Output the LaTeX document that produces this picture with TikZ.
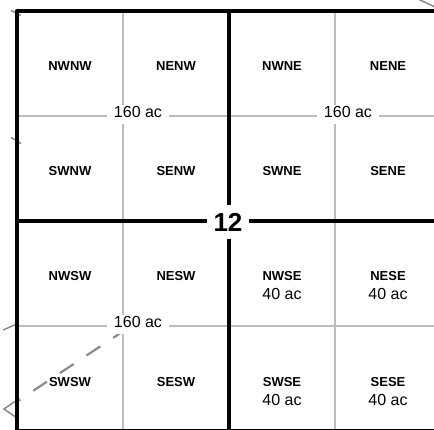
\documentclass[tikz,border=0pt]{standalone}
\usepackage{fontspec}
\setmainfont{Liberation Sans}
\usetikzlibrary{positioning}
\definecolor{quartergray}{HTML}{BBBBBB}
\definecolor{tiegray}{HTML}{8A8A8A}
\tikzset{
  quarterline/.style={draw=quartergray, line width=1.8pt},
  sectionline/.style={draw=black, line width=4.5pt},
  cell/.style={font=\fontsize{13}{15}\selectfont\bfseries, inner sep=2pt},
  acres/.style={font=\fontsize{16}{19}\selectfont, fill=white, anchor=base,
    text depth=4pt, inner xsep=7pt, inner ysep=2pt},
  small acres/.style={font=\fontsize{16}{19}\selectfont, inner sep=1pt},
  secnum/.style={font=\fontsize{26}{30}\selectfont\bfseries, fill=white, inner xsep=7pt, inner ysep=8pt},
  tieline/.style={draw=tiegray, line width=2.2pt, dash pattern=on 16.5pt off 15.5pt},
  outline/.style={draw=tiegray, line width=1.5pt}
}

\begin{document}
\begin{tikzpicture}[x=1pt, y=-1pt]
  \useasboundingbox (0,0) rectangle (434,430);
  \clip (0,0) rectangle (434,430);

  % Quarter-quarter lines
  \draw[quarterline] (123,11) -- (123,431);
  \draw[quarterline] (335,11) -- (335,431);
  \draw[quarterline] (17,116) -- (441,116);
  \draw[quarterline] (17,326) -- (441,326);

  % Ends of neighbouring lines
  \draw[outline] (11,10.5) -- (21,15.5);
  \draw[outline] (11,137.5) -- (21,143.5);
  \draw[outline] (3,330) -- (17,324);
  \draw[outline] (418,-1) -- (436,7.5);
  \draw[outline] (17,400) -- (4,409) -- (17,418);

  % Tie line
  \draw[tieline] (127,328.7) -- (17,401.5);

  % Section and quarter lines
  \draw[sectionline, line join=round] (17,431) -- (17,11) -- (441,11);
  \draw[sectionline] (17,221) -- (441,221);
  \draw[sectionline] (229,11) -- (229,431);
  \draw[sectionline] (17,431) -- (441,431);

  % Quarter-quarter names
  \node[cell] (nwnw) at (70,66) {NWNW};
  \node[cell] (nenw) at (176,66) {NENW};
  \node[cell] (swnw) at (70,171) {SWNW};
  \node[cell] (senw) at (176,171) {SENW};
  \node[cell] (nwne) at (282,66) {NWNE};
  \node[cell] (nene) at (388,66) {NENE};
  \node[cell] (swne) at (282,171) {SWNE};
  \node[cell] (sene) at (388,171) {SENE};
  \node[cell] (nwsw) at (70,276) {NWSW};
  \node[cell] (nesw) at (176,276) {NESW};
  \node[cell] (swsw) at (70,382) {SWSW};
  \node[cell] (sesw) at (176,382) {SESW};
  \node[cell] (nwse) at (282,276) {NWSE};
  \node[cell] (nese) at (388,276) {NESE};
  \node[cell] (swse) at (282,382) {SWSE};
  \node[cell] (sese) at (388,382) {SESE};

  % 40 ac under the SE quarter
  \node[small acres, below=4.5pt of nwse] (nwseac) {40 ac};
  \node[small acres, below=4.5pt of nese] (neseac) {40 ac};
  \node[small acres, below=4.5pt of swse] (swseac) {40 ac};
  \node[small acres, below=4.5pt of sese] (seseac) {40 ac};

  % Quarters
  \node[acres] (nwac) at (138,118) {160 ac};
  \node[acres] (neac) at (348,118) {160 ac};
  \node[acres] (swac) at (138,328) {160 ac};

  % Section number
  \node[secnum] (secno) at (228,222) {12};
\end{tikzpicture}
\end{document}
